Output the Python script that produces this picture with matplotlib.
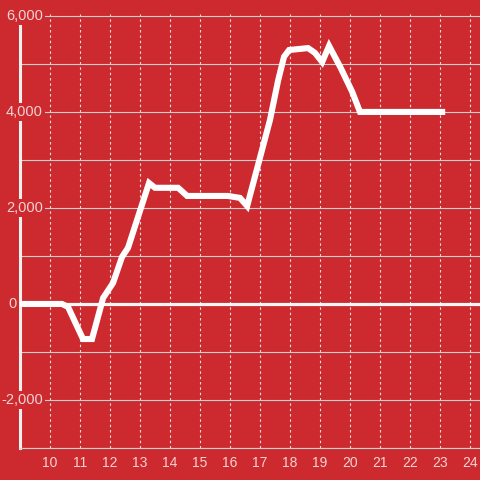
import matplotlib
matplotlib.use("Agg")
import matplotlib.pyplot as plt

# Values (hour of day vs running total)
hours = [9.0, 10.4, 10.6, 11.1, 11.4, 11.77, 12.1, 12.4, 12.6, 13.3, 13.5,
         14.27, 14.57, 15.93, 16.33, 16.57, 17.33, 17.6, 17.8, 17.97, 18.6,
         18.83, 19.07, 19.3, 19.67, 20.07, 20.33, 23.17]
values = [0, 0, -60, -730, -730, 125, 437, 980, 1170, 2520, 2420,
          2420, 2250, 2250, 2210, 2040, 3830, 4650, 5150, 5290, 5330,
          5230, 5040, 5375, 4940, 4420, 4000, 4000]

x_ticks = list(range(10, 25))
y_ticks = [-3000, -2000, -1000, 0, 1000, 2000, 3000, 4000, 5000, 6000]
y_labels = {-2000: "-2,000", 0: "0", 2000: "2,000", 4000: "4,000", 6000: "6,000"}

bg = "#CC2A2F"
label_col = "#F3D3D3"

plt.rcParams["font.family"] = ["Liberation Sans", "DejaVu Sans"]

fig = plt.figure(figsize=(4.8, 4.8), dpi=100, facecolor=bg)
ax = fig.add_axes([20 / 480, 32 / 480, 460 / 480, 434 / 480])
ax.set_facecolor(bg)

ax.set_xlim(9, 24.33)
ax.set_ylim(-3000, 6040)

# grid
ax.set_yticks(y_ticks)
ax.set_xticks(x_ticks)
ax.yaxis.grid(True, color="#CFCFCF", lw=0.8)
ax.xaxis.grid(True, color="#E2E2E2", lw=0.8, linestyle=(0, (2.2, 2.6)))
ax.set_axisbelow(True)
ax.tick_params(axis="both", length=0)
ax.tick_params(axis="x", colors=label_col, labelsize=10, pad=6)
ax.set_yticklabels([])

for s in ["top", "right"]:
    ax.spines[s].set_visible(False)
ax.spines["left"].set_color("#F0F0F0")
ax.spines["left"].set_linewidth(2.2)
ax.spines["bottom"].set_color("#CFCFCF")
ax.spines["bottom"].set_linewidth(0.8)

# zero line
ax.axhline(0, xmin=-0.007, xmax=1, color="#F7F7F7", lw=2.3, clip_on=False, zorder=2)

# y labels sit on top of the axis line with a background box
tr = ax.get_yaxis_transform()
for v, txt in y_labels.items():
    xpos = -0.007 if v == 0 else 0.05
    ax.text(xpos, v, txt, transform=tr, ha="right", va="center",
            fontsize=10.5, color=label_col, zorder=5,
            bbox=dict(boxstyle="square,pad=0.12", fc=bg, ec="none"))

ax.plot(hours, values, color="white", lw=4.4, solid_joinstyle="miter",
        solid_capstyle="butt", zorder=4)

fig.savefig("out.png", dpi=100, facecolor=bg)
